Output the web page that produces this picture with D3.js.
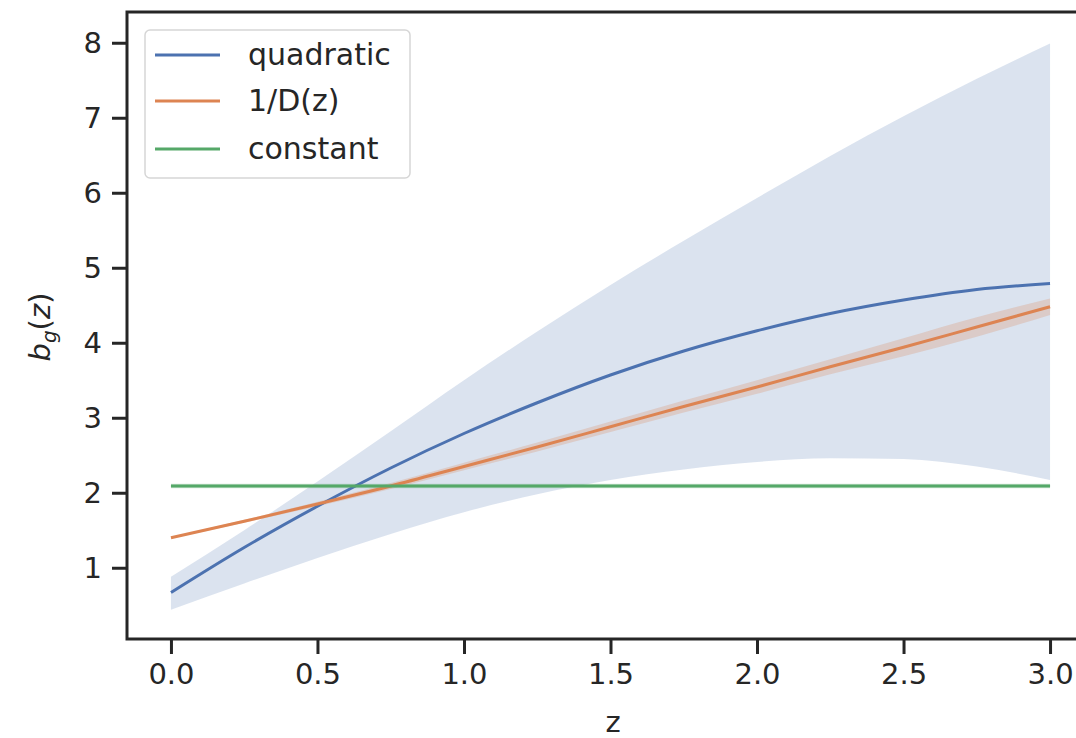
<!DOCTYPE html>
<html>
<head>
<meta charset="utf-8">
<script src="https://cdn.jsdelivr.net/npm/d3@7"></script>
<style>
  html, body { margin: 0; padding: 0; background: #fff; }
  svg { display: block; font-family: "DejaVu Sans", sans-serif; }
</style>
</head>
<body>
<svg id="chart" width="1076" height="738"></svg>
<script>
// ---- data ----
const zValues      = [0, 0.25, 0.5, 0.75, 1.0, 1.25, 1.5, 1.75, 2.0, 2.25, 2.5, 2.75, 3.0];
const quadratic    = [0.67, 1.27, 1.82, 2.33, 2.79, 3.20, 3.57, 3.89, 4.16, 4.39, 4.57, 4.71, 4.79];
const quadUpper    = [0.88, 1.50, 2.15, 2.82, 3.50, 4.15, 4.77, 5.36, 5.93, 6.49, 7.02, 7.52, 7.99];
const quadLower    = [0.44, 0.79, 1.13, 1.45, 1.74, 1.98, 2.17, 2.31, 2.41, 2.46, 2.45, 2.35, 2.17];
const invGrowth    = [1.40, 1.62, 1.85, 2.09, 2.35, 2.61, 2.88, 3.15, 3.41, 3.68, 3.94, 4.21, 4.48];
const invUpper     = [1.41, 1.64, 1.88, 2.13, 2.40, 2.67, 2.95, 3.23, 3.50, 3.78, 4.06, 4.34, 4.59];
const invLower     = [1.39, 1.60, 1.82, 2.05, 2.30, 2.55, 2.81, 3.07, 3.32, 3.58, 3.82, 4.08, 4.37];
const constant     = [2.09, 2.09, 2.09, 2.09, 2.09, 2.09, 2.09, 2.09, 2.09, 2.09, 2.09, 2.09, 2.09];
const constUpper   = [2.12, 2.12, 2.12, 2.12, 2.12, 2.12, 2.12, 2.12, 2.12, 2.12, 2.12, 2.12, 2.12];
const constLower   = [2.06, 2.06, 2.06, 2.06, 2.06, 2.06, 2.06, 2.06, 2.06, 2.06, 2.06, 2.06, 2.06];
const seriesNames  = ["quadratic", "1/D(z)", "constant"];
const xTicks       = [0, 0.5, 1.0, 1.5, 2.0, 2.5, 3.0];
const yTicks       = [1, 2, 3, 4, 5, 6, 7, 8];
const colors       = ["#4c72b0", "#dd8452", "#55a868"];

const svg = d3.select("#chart");
const ink = "#262626";

const x = d3.scaleLinear().domain([-0.15, 3.15]).range([127, 1094]);
const y = d3.scaleLinear().domain([0.05, 8.41]).range([639, 12]);

const series = [
  { name: seriesNames[0], mid: quadratic, lo: quadLower, hi: quadUpper, color: colors[0], bandOpacity: 0.2 },
  { name: seriesNames[1], mid: invGrowth, lo: invLower, hi: invUpper, color: colors[1], bandOpacity: 0.25 },
  { name: seriesNames[2], mid: constant, lo: constLower, hi: constUpper, color: colors[2], bandOpacity: 0.25 }
];

const area = d3.area().curve(d3.curveMonotoneX)
  .x(d => x(d.z)).y0(d => y(d.lo)).y1(d => y(d.hi));
const line = d3.line().curve(d3.curveMonotoneX)
  .x(d => x(d.z)).y(d => y(d.v));

// bands
series.forEach(s => {
  const pts = zValues.map((z, i) => ({ z, lo: s.lo[i], hi: s.hi[i] }));
  svg.append("path").attr("d", area(pts))
    .attr("fill", s.color).attr("fill-opacity", s.bandOpacity).attr("stroke", "none");
});
// lines
series.forEach(s => {
  const pts = zValues.map((z, i) => ({ z, v: s.mid[i] }));
  svg.append("path").attr("d", line(pts))
    .attr("fill", "none").attr("stroke", s.color).attr("stroke-width", 3);
});

// axes
const xAxis = d3.axisBottom(x).tickValues(xTicks).tickFormat(d3.format(".1f"))
  .tickSize(15).tickPadding(9);
const yAxis = d3.axisLeft(y).tickValues(yTicks).tickFormat(d3.format("d"))
  .tickSize(15).tickPadding(10);

const gx = svg.append("g").attr("transform", "translate(0,639)").call(xAxis);
const gy = svg.append("g").attr("transform", "translate(127,0)").call(yAxis);
[gx, gy].forEach(g => {
  g.select(".domain").remove();
  g.selectAll(".tick line").attr("stroke", ink).attr("stroke-width", 3);
  g.selectAll(".tick text").attr("fill", ink)
    .style("font-family", "DejaVu Sans, sans-serif").style("font-size", "29px");
});

// spines (left, bottom, top; right spine lies outside the frame)
svg.append("rect")
  .attr("x", x.range()[0]).attr("y", y.range()[1])
  .attr("width", x.range()[1] - x.range()[0]).attr("height", y.range()[0] - y.range()[1])
  .attr("fill", "none").attr("stroke", ink).attr("stroke-width", 3);

// axis labels
svg.append("text").attr("x", 613).attr("y", 732).attr("text-anchor", "middle")
  .attr("fill", ink).style("font-size", "29px").text("z");

const yl = svg.append("text").attr("transform", "translate(50,327) rotate(-90)")
  .attr("text-anchor", "middle").attr("fill", ink).style("font-size", "29px");
yl.append("tspan").attr("font-style", "italic").text("b");
yl.append("tspan").attr("font-style", "italic").attr("font-size", "20px").attr("dy", 6).text("g");
yl.append("tspan").attr("dy", -6).text("(");
yl.append("tspan").attr("font-style", "italic").text("z");
yl.append("tspan").text(")");

// legend
const lg = svg.append("g");
lg.append("rect").attr("x", 145).attr("y", 30).attr("width", 265).attr("height", 148)
  .attr("rx", 5).attr("fill", "#fff").attr("fill-opacity", 0.8)
  .attr("stroke", "#d6d6d6").attr("stroke-width", 1.5);
const legendY = [55, 101, 149];
series.forEach((s, i) => {
  lg.append("line").attr("x1", 155).attr("x2", 220).attr("y1", legendY[i]).attr("y2", legendY[i])
    .attr("stroke", s.color).attr("stroke-width", 3);
  lg.append("text").attr("x", 248).attr("y", legendY[i] + 10).attr("fill", ink)
    .style("font-size", "30px").text(s.name);
});
</script>
</body>
</html>
